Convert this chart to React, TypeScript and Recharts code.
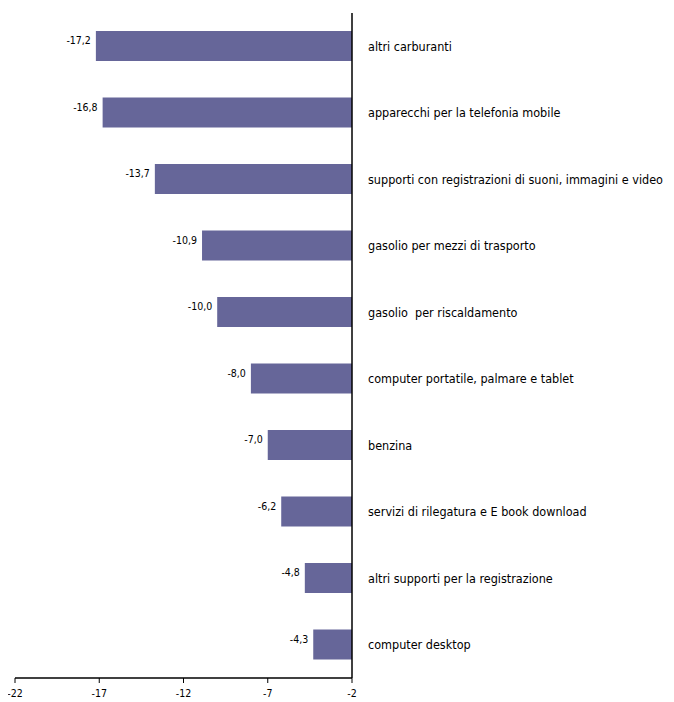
import React from 'react';
import { BarChart, Bar, XAxis, YAxis, LabelList } from 'recharts';

const categories = [
  'altri carburanti',
  'apparecchi per la telefonia mobile',
  'supporti con registrazioni di suoni, immagini e video',
  'gasolio per mezzi di trasporto',
  'gasolio  per riscaldamento',
  'computer portatile, palmare e tablet',
  'benzina',
  'servizi di rilegatura e E book download',
  'altri supporti per la registrazione',
  'computer desktop',
];
const values = [-17.2, -16.8, -13.7, -10.9, -10.0, -8.0, -7.0, -6.2, -4.8, -4.3];
const xTicks = [-22, -17, -12, -7, -2];

const data = categories.map((name, i) => ({ name, value: values[i] }));

const FONT = '"Liberation Sans Narrow", "DejaVu Sans Condensed", "DejaVu Sans", sans-serif';

const CategoryTick = (props: any) => {
  const { x, y, payload } = props;
  return (
    <text x={x + 8} y={y} textAnchor="start" dominantBaseline="central" fontFamily={FONT} fontSize={12.5} fill="#000" style={{ whiteSpace: 'pre' }}>
      {payload.value}
    </text>
  );
};

const NumberTick = (props: any) => {
  const { x, y, payload } = props;
  return (
    <text x={x} y={y + 8} textAnchor="middle" dominantBaseline="central" fontFamily={FONT} fontSize={10.5} fill="#000">
      {payload.value}
    </text>
  );
};

const ValueLabel = (props: any) => {
  const { x, y, width, value } = props;
  const left = Math.min(x, x + width);
  return (
    <text x={left - 5} y={y + 9} textAnchor="end" dominantBaseline="central" fontFamily={FONT} fontSize={10.5} fill="#000">
      {Number(value).toFixed(1).replace('.', ',')}
    </text>
  );
};

export default function App() {
  return (
    <div style={{ width: 658, height: 694 }}>
      <BarChart
        width={666}
        height={694}
        data={data}
        layout="vertical"
        margin={{ top: 5, right: 0, bottom: 0, left: 7 }}
        barSize={30}
      >
        <XAxis
          type="number"
          domain={[-22, -2]}
          ticks={xTicks}
          interval={0}
          axisLine={{ stroke: '#000', strokeWidth: 1.5 }}
          tickLine={{ stroke: '#000' }}
          tickSize={5}
          height={24}
          tick={<NumberTick />}
        />
        <YAxis
          type="category"
          dataKey="name"
          orientation="right"
          width={322}
          axisLine={{ stroke: '#000', strokeWidth: 1.5 }}
          tickLine={false}
          interval={0}
          tick={<CategoryTick />}
        />
        <Bar dataKey="value" fill="#666699" isAnimationActive={false}>
          <LabelList dataKey="value" content={<ValueLabel />} />
        </Bar>
      </BarChart>
    </div>
  );
}
